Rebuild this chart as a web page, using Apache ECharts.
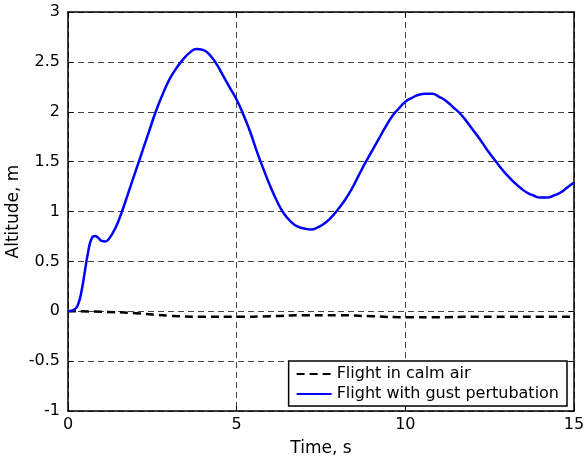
<!DOCTYPE html>
<html><head><meta charset="utf-8">
<script src="https://cdn.jsdelivr.net/npm/echarts@6/dist/echarts.min.js"></script>
<style>html,body{margin:0;padding:0;background:#fff}#c{width:584px;height:457px}</style>
</head><body><div id="c"></div>
<script>
const gustTime = [0,0.2,0.3,0.4,0.5,0.6,0.7,0.8,0.9,1.0,1.1,1.2,1.4,1.6,1.8,2.0,2.2,2.4,2.6,2.8,3.0,3.2,3.4,3.6,3.8,4.0,4.2,4.4,4.6,4.8,5.0,5.2,5.4,5.6,5.8,6.0,6.2,6.4,6.6,6.8,7.0,7.2,7.4,7.6,7.8,8.0,8.2,8.4,8.6,8.8,9.0,9.2,9.4,9.6,9.8,10.0,10.2,10.4,10.6,10.8,11.0,11.2,11.4,11.6,11.8,12.0,12.2,12.4,12.6,12.8,13.0,13.2,13.4,13.6,13.8,14.0,14.2,14.4,14.6,14.8,15.0];
const gustAlt = [0,0.02,0.07,0.2,0.4,0.6,0.73,0.755,0.735,0.705,0.70,0.72,0.83,1.0,1.2,1.4,1.6,1.8,2.0,2.17,2.32,2.43,2.52,2.59,2.63,2.62,2.57,2.48,2.36,2.24,2.12,1.97,1.8,1.6,1.42,1.25,1.1,0.98,0.9,0.85,0.83,0.82,0.84,0.88,0.94,1.02,1.11,1.22,1.35,1.48,1.6,1.72,1.84,1.95,2.03,2.1,2.14,2.17,2.18,2.18,2.15,2.11,2.05,1.99,1.91,1.82,1.73,1.63,1.54,1.45,1.37,1.3,1.24,1.19,1.16,1.14,1.14,1.16,1.19,1.24,1.29];
const calmTime = [0,1,2,3,4,5,6,7,8,9,10,11,12,13,14,15];
const calmAlt = [0,-0.005,-0.02,-0.045,-0.055,-0.055,-0.05,-0.04,-0.04,-0.05,-0.06,-0.06,-0.055,-0.055,-0.055,-0.055];
const xTicks = [0,5,10,15];
const yTicks = [-1,-0.5,0,0.5,1,1.5,2,2.5,3];
const seriesNames = ['Flight in calm air','Flight with gust pertubation'];

const zip = (a,b)=>a.map((v,i)=>[v,b[i]]);
const font = 'DejaVu Sans, Liberation Sans, Arial, sans-serif';
const chart = echarts.init(document.getElementById('c'));
const lbl = {color:'#000', fontSize:16, fontFamily:font};
const frame = {onZero:false, lineStyle:{color:'#000', width:1.5}};
const tick = {inside:true, length:5, lineStyle:{color:'#000', width:1}};
const grid = {show:true, lineStyle:{color:'#444', type:[6,4], width:1}};
chart.setOption({
  animation:false,
  grid:{left:68,right:10,top:12,bottom:46,containLabel:false,outerBoundsMode:'none'},
  legend:{
    right:17, bottom:51, orient:'vertical', itemGap:4, itemWidth:35, itemHeight:12,
    padding:[5,8,4,7],
    backgroundColor:'#fff', borderColor:'#000', borderWidth:1.5, borderRadius:0,
    itemStyle:{opacity:0},
    textStyle:{color:'#000', fontSize:16, fontFamily:font},
    data:seriesNames
  },
  xAxis:[{
    type:'value', min:0, max:15, interval:5,
    name:'Time, s', nameLocation:'middle', nameGap:29,
    nameTextStyle:{color:'#000', fontSize:17, fontFamily:font},
    axisLine:frame, axisTick:tick,
    axisLabel:Object.assign({margin:6, formatter:v=>xTicks.includes(v)?String(v):''}, lbl),
    splitLine:grid
  },{
    type:'value', min:0, max:15, interval:5, position:'top',
    axisLine:frame, axisTick:tick,
    axisLabel:{show:false}, splitLine:{show:false}
  }],
  yAxis:[{
    type:'value', min:-1, max:3, interval:0.5,
    name:'Altitude, m', nameLocation:'middle', nameGap:46, nameMoveOverlap:false,
    nameTextStyle:{color:'#000', fontSize:17, fontFamily:font},
    axisLine:frame, axisTick:tick,
    axisLabel:Object.assign({margin:8, formatter:v=>yTicks.includes(v)?String(v):''}, lbl),
    splitLine:grid
  },{
    type:'value', min:-1, max:3, interval:0.5, position:'right',
    axisLine:frame, axisTick:tick,
    axisLabel:{show:false}, splitLine:{show:false}
  }],
  series:[{
    name:seriesNames[0], type:'line', data:zip(calmTime,calmAlt), smooth:true,
    symbol:'none', showSymbol:false, z:3,
    lineStyle:{color:'#000', width:2.5, type:[8,5]}, itemStyle:{color:'#000'}
  },{
    name:seriesNames[1], type:'line', data:zip(gustTime,gustAlt), smooth:true,
    symbol:'none', showSymbol:false, z:4,
    lineStyle:{color:'#0000ff', width:2.5}, itemStyle:{color:'#0000ff'}
  }]
});
</script></body></html>
